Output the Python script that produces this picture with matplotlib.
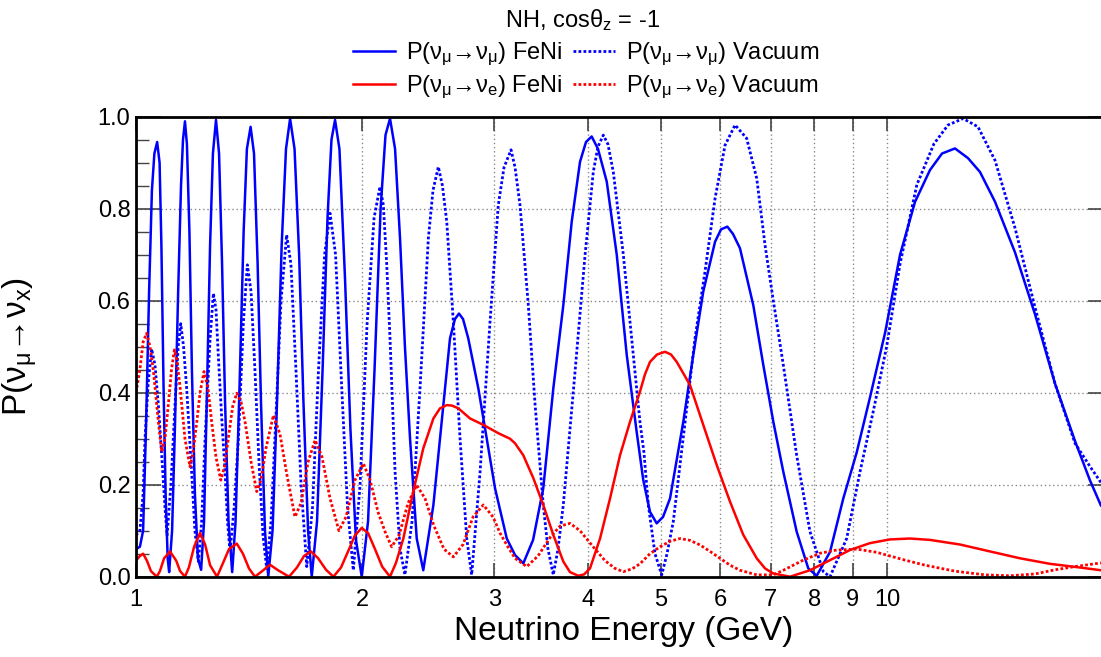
import matplotlib
matplotlib.use("Agg")
import matplotlib.pyplot as plt
from matplotlib.ticker import FixedLocator, MultipleLocator, NullLocator, NullFormatter

plt.rcParams['font.family'] = ['Liberation Sans', 'DejaVu Sans']
plt.rcParams['mathtext.fontset'] = 'custom'
plt.rcParams['mathtext.rm'] = 'Liberation Sans'
plt.rcParams['mathtext.it'] = 'Liberation Sans'

BLUE = "#0000ff"
RED = "#ff0000"

# P(numu -> numu), FeNi
e_mm_feni = [1.000, 1.012, 1.022, 1.031, 1.041, 1.050, 1.058, 1.067, 1.075, 1.081, 1.088, 1.095, 1.102, 1.107,
             1.117, 1.127, 1.138, 1.148, 1.155, 1.162, 1.169, 1.178, 1.187, 1.198, 1.209, 1.221,
             1.232, 1.243, 1.255, 1.266, 1.278, 1.290, 1.302, 1.314, 1.328, 1.343,
             1.357, 1.374, 1.391, 1.405, 1.421, 1.436, 1.452, 1.467, 1.485, 1.500,
             1.520, 1.541, 1.563, 1.584, 1.604, 1.626, 1.649, 1.671, 1.695, 1.714,
             1.742, 1.772, 1.799, 1.821, 1.841, 1.866, 1.898, 1.930, 1.963, 1.998,
             2.037, 2.078, 2.117, 2.149, 2.179, 2.213, 2.247, 2.281, 2.317, 2.365, 2.413,
             2.489, 2.566, 2.619, 2.659, 2.692, 2.726, 2.770, 2.857, 2.931, 3.007, 3.117, 3.197, 3.279,
             3.379, 3.486, 3.595, 3.707, 3.804, 3.902, 3.974, 4.044, 4.123, 4.235, 4.367, 4.503, 4.642, 4.737, 4.836, 4.936,
             5.033, 5.142, 5.356, 5.522, 5.694, 5.903, 6.012, 6.130, 6.238, 6.372, 6.638, 6.845, 7.058, 7.278, 7.582, 7.857, 8.062,
             8.399, 8.747, 9.114, 9.494, 9.942, 10.41, 10.90, 11.41, 11.84, 12.32, 12.82, 13.30, 13.93, 14.81, 15.75, 16.74, 17.80, 18.63, 19.27]
p_mm_feni = [0.06, 0.065, 0.10, 0.32, 0.62, 0.84, 0.92, 0.945, 0.90, 0.72, 0.42, 0.18, 0.04, 0.01,
             0.10, 0.33, 0.62, 0.85, 0.95, 0.99, 0.94, 0.75, 0.45, 0.18, 0.04, 0.015,
             0.12, 0.40, 0.72, 0.92, 0.993, 0.92, 0.68, 0.38, 0.12, 0.01,
             0.12, 0.42, 0.75, 0.93, 0.978, 0.92, 0.68, 0.38, 0.10, 0.0,
             0.10, 0.38, 0.72, 0.93, 0.996, 0.93, 0.70, 0.38, 0.10, 0.0,
             0.12, 0.45, 0.78, 0.95, 0.993, 0.93, 0.65, 0.32, 0.08, 0.0,
             0.12, 0.45, 0.80, 0.96, 0.996, 0.93, 0.735, 0.50, 0.30, 0.083, 0.014,
             0.156, 0.373, 0.518, 0.56, 0.572, 0.56, 0.518, 0.409, 0.30, 0.192, 0.083, 0.047, 0.029,
             0.08, 0.192, 0.409, 0.59, 0.772, 0.902, 0.945, 0.957, 0.93, 0.859, 0.70, 0.482, 0.315, 0.21, 0.141, 0.116,
             0.13, 0.17, 0.337, 0.482, 0.62, 0.728, 0.755, 0.761, 0.745, 0.714, 0.59, 0.46, 0.337, 0.228, 0.098, 0.018, 0.002,
             0.054, 0.17, 0.27, 0.39, 0.53, 0.70, 0.815, 0.884, 0.92, 0.931, 0.91, 0.88, 0.815, 0.705, 0.57, 0.42, 0.295, 0.21, 0.155]

# P(numu -> numu), vacuum
e_mm_vac = [1.000, 1.012, 1.022, 1.028, 1.038, 1.049, 1.060, 1.071, 1.082, 1.093, 1.100,
            1.113, 1.127, 1.138, 1.147, 1.157, 1.168, 1.186, 1.198, 1.211,
            1.223, 1.236, 1.255, 1.268, 1.278, 1.287, 1.300, 1.314, 1.324, 1.334,
            1.351, 1.369, 1.390, 1.407, 1.423, 1.440, 1.458, 1.476, 1.493,
            1.513, 1.536, 1.560, 1.587, 1.608, 1.633, 1.659, 1.688,
            1.718, 1.750, 1.783, 1.813, 1.844, 1.878, 1.913, 1.947,
            1.988, 2.031, 2.075, 2.113, 2.135, 2.157, 2.179, 2.213, 2.247, 2.281,
            2.331, 2.389, 2.451, 2.486, 2.527, 2.559, 2.593, 2.646, 2.701, 2.757, 2.799,
            2.872, 2.961, 3.037, 3.091, 3.158, 3.197, 3.246, 3.330, 3.400, 3.486, 3.537, 3.595,
            3.647, 3.707, 3.843, 3.963, 4.064, 4.123, 4.191, 4.251, 4.321, 4.456, 4.595, 4.689, 4.747, 4.811, 4.910, 5.013,
            5.095, 5.194, 5.385, 5.551, 5.724, 5.903, 6.087, 6.277, 6.504, 6.708, 6.881, 7.058, 7.278, 7.582, 7.898, 8.228, 8.399,
            8.838, 9.207, 9.591, 9.990, 10.41, 10.96, 11.55, 12.06, 12.63, 13.22, 13.93, 14.81, 15.75, 16.74, 17.80, 18.63, 19.27]
p_mm_vac = [0.09, 0.10, 0.18, 0.30, 0.42, 0.495, 0.46, 0.373, 0.264, 0.15, 0.09,
            0.20, 0.373, 0.50, 0.55, 0.50, 0.41, 0.228, 0.10, 0.033,
            0.12, 0.30, 0.518, 0.616, 0.58, 0.482, 0.35, 0.228, 0.12, 0.054,
            0.15, 0.30, 0.554, 0.678, 0.62, 0.45, 0.25, 0.09, 0.018,
            0.12, 0.35, 0.60, 0.743, 0.68, 0.45, 0.20, 0.022,
            0.15, 0.45, 0.70, 0.79, 0.70, 0.42, 0.15, 0.014,
            0.20, 0.55, 0.78, 0.848, 0.808, 0.68, 0.518, 0.228, 0.06, 0.004,
            0.12, 0.41, 0.736, 0.84, 0.891, 0.85, 0.772, 0.554, 0.30, 0.083, 0.004,
            0.228, 0.554, 0.808, 0.89, 0.928, 0.89, 0.808, 0.59, 0.373, 0.156, 0.06, 0.004,
            0.06, 0.156, 0.446, 0.70, 0.88, 0.935, 0.96, 0.94, 0.88, 0.70, 0.482, 0.337, 0.27, 0.156, 0.05, 0.004,
            0.05, 0.12, 0.337, 0.518, 0.663, 0.822, 0.938, 0.982, 0.953, 0.866, 0.721, 0.60, 0.46, 0.264, 0.098, 0.011, 0.0,
            0.083, 0.228, 0.36, 0.50, 0.68, 0.852, 0.941, 0.982, 0.996, 0.978, 0.905, 0.758, 0.585, 0.42, 0.29, 0.24, 0.205]

# P(numu -> nue), FeNi
e_me_feni = [1.000, 1.012, 1.022, 1.034, 1.047, 1.066, 1.076, 1.090, 1.110, 1.131, 1.145, 1.162,
             1.176, 1.195, 1.217, 1.236, 1.255, 1.282, 1.302, 1.330, 1.362, 1.388, 1.414, 1.440,
             1.472, 1.508, 1.546, 1.599, 1.638, 1.674, 1.710, 1.748, 1.791, 1.832,
             1.875, 1.922, 1.957, 1.998, 2.037, 2.081, 2.127, 2.179,
             2.219, 2.270, 2.340, 2.413, 2.489, 2.540, 2.593, 2.635, 2.687, 2.785, 2.901, 3.037, 3.148, 3.197, 3.279,
             3.382, 3.486, 3.595, 3.707, 3.784, 3.882, 3.951, 4.023, 4.149, 4.278, 4.411, 4.549, 4.689, 4.762, 4.836, 4.941,
             5.064, 5.158, 5.249, 5.466, 5.694, 5.933, 6.181, 6.437, 6.708, 6.881, 7.058, 7.428, 7.898, 8.399, 8.929,
             9.494, 10.09, 10.73, 11.41, 12.51, 13.71, 15.04, 16.48, 18.07, 19.27]
p_me_feni = [0.035, 0.045, 0.05, 0.035, 0.012, 0.0, 0.012, 0.04, 0.055, 0.035, 0.012, 0.0,
             0.02, 0.065, 0.095, 0.07, 0.025, 0.0, 0.025, 0.06, 0.072, 0.05, 0.018, 0.0,
             0.012, 0.026, 0.014, 0.0, 0.02, 0.045, 0.055, 0.04, 0.015, 0.0,
             0.02, 0.06, 0.09, 0.106, 0.095, 0.06, 0.022, 0.0,
             0.03, 0.083, 0.185, 0.279, 0.344, 0.366, 0.373, 0.372, 0.366, 0.344, 0.33, 0.312, 0.30, 0.29, 0.264,
             0.214, 0.156, 0.091, 0.033, 0.01, 0.002, 0.005, 0.018, 0.083, 0.17, 0.264, 0.337, 0.402, 0.44, 0.467, 0.483,
             0.489, 0.483, 0.467, 0.417, 0.33, 0.243, 0.163, 0.091, 0.04, 0.018, 0.007, 0.0, 0.014, 0.036, 0.058,
             0.073, 0.081, 0.083, 0.08, 0.07, 0.055, 0.04, 0.028, 0.02, 0.014]

# P(numu -> nue), vacuum
e_me_vac = [1.000, 1.012, 1.022, 1.033, 1.044, 1.055, 1.071, 1.082, 1.093, 1.104, 1.115, 1.125, 1.134, 1.145, 1.162,
            1.180, 1.191, 1.205, 1.217, 1.232, 1.247, 1.261, 1.278, 1.297, 1.312, 1.327, 1.345, 1.362, 1.380, 1.397, 1.423, 1.448,
            1.467, 1.490, 1.524, 1.555, 1.589, 1.628, 1.659, 1.695, 1.732, 1.769, 1.813, 1.863, 1.904, 1.957, 2.008, 2.050, 2.101, 2.146,
            2.190, 2.240, 2.303, 2.365, 2.426, 2.494, 2.571, 2.646, 2.726, 2.811, 2.901, 2.988, 3.053, 3.117, 3.197, 3.314,
            3.430, 3.559, 3.670, 3.784, 3.902, 4.048, 4.212, 4.344, 4.456, 4.577, 4.689, 4.836, 4.986, 5.142, 5.302, 5.466,
            5.637, 5.813, 5.994, 6.181, 6.372, 6.708, 7.058,
            7.278, 7.737, 8.145, 8.571, 9.114, 9.691, 10.57, 11.24, 12.32, 13.51, 14.58, 15.75, 16.74, 17.80, 19.27]
p_me_vac = [0.40, 0.45, 0.51, 0.529, 0.50, 0.446, 0.337, 0.272, 0.30, 0.373, 0.45, 0.493, 0.47, 0.41, 0.30,
            0.239, 0.27, 0.337, 0.40, 0.446, 0.41, 0.337, 0.26, 0.21, 0.24, 0.30, 0.37, 0.399, 0.38, 0.337, 0.25, 0.185,
            0.21, 0.28, 0.351, 0.31, 0.22, 0.13, 0.16, 0.25, 0.297, 0.26, 0.17, 0.10, 0.13, 0.21, 0.246, 0.21, 0.14, 0.098,
            0.065, 0.09, 0.16, 0.199, 0.17, 0.11, 0.06, 0.043, 0.07, 0.13, 0.156, 0.13, 0.095, 0.069, 0.04, 0.022,
            0.045, 0.085, 0.11, 0.116, 0.10, 0.068, 0.035, 0.018, 0.011, 0.017, 0.028, 0.05, 0.065, 0.077, 0.083, 0.079,
            0.069, 0.055, 0.04, 0.025, 0.014, 0.004, 0.004,
            0.014, 0.036, 0.051, 0.058, 0.06, 0.053, 0.036, 0.025, 0.012, 0.004, 0.002, 0.006, 0.015, 0.022, 0.03]

x_ticks = [1, 2, 3, 4, 5, 6, 7, 8, 9, 10, 20]
x_tick_labels = ["1", "2", "3", "4", "5", "6", "7", "8", "9", "10", ""]
y_ticks = [0.0, 0.2, 0.4, 0.6, 0.8, 1.0]

ARROW = "→"
MM = r"P(ν$_\mathregular{μ}$" + ARROW + r"ν$_\mathregular{μ}$)"
ME = r"P(ν$_\mathregular{μ}$" + ARROW + r"ν$_\mathregular{e}$)"

fig = plt.figure(figsize=(11.01, 6.57), dpi=100)
ax = fig.add_axes([136 / 1101, 80.3 / 657, (1113 - 136) / 1101, 460 / 657])

dots = (0, (1.0, 0.8))
l1, = ax.plot(e_mm_feni, p_mm_feni, color=BLUE, lw=1.8, label=MM + " FeNi")
l2, = ax.plot(e_mm_vac, p_mm_vac, color=BLUE, lw=2.0, ls=dots, label=MM + " Vacuum")
l3, = ax.plot(e_me_feni, p_me_feni, color=RED, lw=1.8, label=ME + " FeNi")
l4, = ax.plot(e_me_vac, p_me_vac, color=RED, lw=2.0, ls=dots, label=ME + " Vacuum")

ax.set_xscale("log")
ax.set_xlim(1, 20)
ax.set_ylim(0, 1)

ax.xaxis.set_major_locator(FixedLocator(x_ticks))
ax.set_xticklabels(x_tick_labels)
ax.xaxis.set_minor_locator(NullLocator())
ax.xaxis.set_minor_formatter(NullFormatter())
ax.yaxis.set_major_locator(FixedLocator(y_ticks))
ax.set_yticklabels(["%.1f" % v for v in y_ticks])
ax.yaxis.set_minor_locator(MultipleLocator(0.05))

ax.tick_params(axis="x", which="major", direction="in", length=10, width=1.2,
               color="#444444", top=True, labelsize=17, pad=9)
ax.tick_params(axis="y", which="major", direction="in", length=18, width=1.2,
               color="#444444", right=True, labelsize=17, pad=4)
ax.tick_params(axis="y", which="minor", direction="in", length=9, width=1.0,
               color="#444444", right=True)

for v in x_ticks[1:-1]:
    ax.axvline(v, color="#8a8a8a", lw=1.0, ls=(0, (1, 2)), zorder=0)
for v in y_ticks[1:-1]:
    ax.axhline(v, color="#8a8a8a", lw=1.0, ls=(0, (1, 2)), zorder=0)

for s in ax.spines.values():
    s.set_linewidth(2.0)
    s.set_color("black")

ax.set_ylabel(r"P(ν$_\mathregular{μ}$" + ARROW + r"ν$_\mathregular{x}$)", fontsize=24)
ax.yaxis.set_label_coords(-0.098, 0.5)
fig.text(624 / 1101, (657 - 640) / 657, "Neutrino Energy (GeV)", fontsize=24,
         ha="center", va="baseline")

fig.text(583 / 1101, (657 - 27) / 657, r"NH, cosθ$_\mathregular{z}$ = -1", fontsize=17,
         ha="center", va="baseline")

fig.legend(handles=[l1, l3, l2, l4], ncol=2, loc="center",
           bbox_to_anchor=(586 / 1101, (657 - 71) / 657), frameon=False,
           fontsize=17, handlelength=1.8, handletextpad=0.45, columnspacing=0.45,
           labelspacing=0.22, borderpad=0.0, borderaxespad=0.0)

fig.savefig("out.png", dpi=100)
